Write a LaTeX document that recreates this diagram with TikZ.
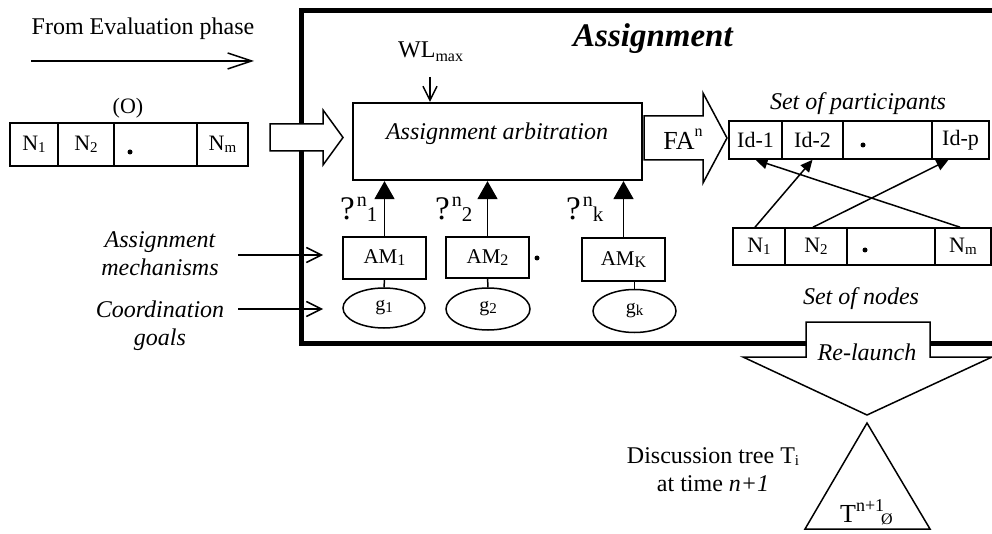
\documentclass[tikz,border=0pt]{standalone}
\usepackage{fontspec}
\setmainfont{Liberation Serif}
\usetikzlibrary{arrows.meta,shapes.geometric}

% font size helper and small raised / lowered text
\newcommand\sz[2]{\fontsize{#1}{#2}\selectfont}
\newcommand\lowtxt[2]{\raisebox{-2pt}{\fontsize{#1}{#1}\selectfont #2}}
\newcommand\uptxt[3]{\raisebox{#2}{\fontsize{#1}{#1}\selectfont #3}}

\begin{document}
\begin{tikzpicture}[x=1pt,y=-1pt,
  cell/.style={draw, line width=1.6pt, inner sep=0pt, font=\sz{22}{26}},
  ambox/.style={draw, line width=1.5pt, minimum width=83pt, minimum height=42pt, inner sep=0pt, font=\sz{21}{24}},
  goal/.style={draw, ellipse, line width=1.5pt, minimum width=83pt, minimum height=41pt, inner sep=0pt, font=\sz{20}{24}},
  dotmark/.style={circle, fill, inner sep=0pt, minimum size=5pt},
  barb/.style={-{Straight Barb[length=15pt,width=15pt]}, line width=1.5pt},
  upar/.style={-{Triangle[length=18pt,width=20pt]}, line width=1.5pt},
  crossar/.style={-{Triangle[length=12pt,width=11pt]}, line width=1.5pt},
  hollow/.style={draw, line width=1.5pt, fill=white, line join=miter},
  lbl/.style={font=\sz{24}{28}},
  qlbl/.style={anchor=base west, inner sep=0pt},
]
\useasboundingbox (0,0) rectangle (992,534);

% outer frame of the assignment phase
\draw[line width=5.5pt, line join=miter] (992,10.5) -- (301.5,10.5) -- (301.5,343.5) -- (992,343.5);
\node[font=\sz{33}{36}\bfseries\itshape, anchor=base west, inner sep=0pt] (title) at (573,47) {Assignment};

% incoming flow
\node[lbl, anchor=base] (evtxt) at (143,35) {From Evaluation phase};
\coordinate (ev0) at (31,61);
\coordinate (ev1) at (254,61);
\draw[line width=1.5pt, -{Straight Barb[length=24pt,width=16pt]}] (ev0) -- (ev1);

% ordered list of nodes (O)
\node[font=\sz{22}{24}] (olab) at (128,108) {(O)};
\node[cell, minimum width=48pt, minimum height=43pt] (o1) at (34,144.5) {N\lowtxt{15}{1}};
\node[cell, minimum width=56pt, minimum height=43pt] (o2) at (86,144.5) {N\lowtxt{15}{2}};
\node[cell, minimum width=83pt, minimum height=43pt] (o3) at (155.5,144.5) {};
\node[cell, minimum width=51pt, minimum height=43pt] (o4) at (222.5,144.5) {N\lowtxt{15}{m}};
\node[dotmark] (odot) at (130,152) {};

% hollow arrow into the frame
\draw[hollow] (270,124) -- (323,124) -- (323,110) -- (343,137.5) -- (323,165) -- (323,151) -- (270,151) -- cycle;

% arbitration
\node[draw, line width=2.2pt, minimum width=289pt, minimum height=77pt] (arb) at (497.5,141.5) {};
\node[font=\sz{24}{28}\itshape] (arbtxt) at (497,134) {Assignment arbitration};
\node[font=\sz{24}{26}, anchor=base west, inner sep=0pt] (wl) at (398,58) {WL\raisebox{-4pt}{\fontsize{16}{16}\selectfont max}};
\coordinate (wlfoot) at (430,77);
\draw[-{Straight Barb[length=14pt,width=14pt]}, line width=1.5pt] (wlfoot) -- (wlfoot |- arb.north);

% assignment mechanisms and goals
\node[ambox] (am1) at (384.5,258) {AM\lowtxt{16}{1}};
\node[ambox, minimum height=41pt] (am2) at (487.5,257.5) {AM\lowtxt{16}{2}};
\node[ambox, minimum height=43pt] (amk) at (623.5,259.5) {AM\lowtxt{16}{K}};
\node[dotmark] (amdot) at (537,258) {};
\node[goal, minimum width=82pt, minimum height=40pt] (g1) at (384,308) {g\lowtxt{15}{1}};
\node[goal, minimum width=84pt, minimum height=42pt] (g2) at (488,309) {g\lowtxt{15}{2}};
\node[goal, minimum height=43pt] (gk) at (634.5,311) {g\lowtxt{15}{k}};
\draw[line width=1.5pt] (am1) -- (g1);
\draw[line width=1.5pt] (am2) -- (g2);
\draw[line width=1.5pt] (gk.north) -- (gk.north |- amk.south);

\draw[upar] (am1) -- (am1 |- arb.south);
\draw[upar] (am2) -- (am2 |- arb.south);
\draw[upar] (amk) -- (amk |- arb.south);
\node[qlbl] (q1) at (340,220) {\sz{33}{33}?\hspace{2pt}\uptxt{20}{13pt}{n}\lowtxt{21}{1}};
\node[qlbl] (q2) at (435,220) {\sz{33}{33}?\hspace{2pt}\uptxt{20}{13pt}{n}\lowtxt{21}{2}};
\node[qlbl] (qk) at (566,220) {\sz{33}{33}?\hspace{2pt}\uptxt{20}{13pt}{n}\lowtxt{21}{k}};

% side labels
\node[lbl, font=\sz{24}{28}\itshape, align=center] (mechlab) at (160,254) {Assignment\\mechanisms};
\node[lbl, font=\sz{24}{28}\itshape, align=center] (goallab) at (160,326) {Coordination\\goals};
\coordinate (mech0) at (238,255);
\coordinate (mech1) at (323,255);
\coordinate (goal0) at (238,309);
\coordinate (goal1) at (323,309);
\draw[barb] (mech0) -- (mech1);
\draw[barb] (goal0) -- (goal1);

% final assignment arrow
\draw[hollow] (644,116) -- (703,116) -- (703,93) -- (727,138) -- (703,183) -- (703,160) -- (644,160) -- cycle;
\node[font=\sz{26}{28}, anchor=base] (fa) at (683,150) {FA\uptxt{16}{13pt}{n}};

% set of participants
\node[lbl, font=\sz{24}{28}\itshape, anchor=base] (partlab) at (858,110) {Set of participants};
\node[cell, minimum width=53pt, minimum height=38pt] (id1) at (755.5,140) {Id-1};
\node[cell, minimum width=61pt, minimum height=38pt] (id2) at (812.5,140) {Id-2};
\node[cell, minimum width=89pt, minimum height=38pt] (id3) at (887.5,140) {};
\node[cell, minimum width=57pt, minimum height=38pt] (idp) at (960.5,140) {Id-p};
\node[dotmark] (iddot) at (863,145) {};

% set of nodes
\node[cell, minimum width=52pt, minimum height=37pt] (n1) at (759,246.5) {N\lowtxt{15}{1}};
\node[cell, minimum width=62pt, minimum height=37pt] (n2) at (816,246.5) {N\lowtxt{15}{2}};
\node[cell, minimum width=88pt, minimum height=37pt] (n3) at (891,246.5) {};
\node[cell, minimum width=56pt, minimum height=37pt] (nm) at (963,246.5) {N\lowtxt{15}{m}};
\node[dotmark] (ndot) at (865,250) {};
\node[lbl, font=\sz{24}{28}\itshape, anchor=base] (nodelab) at (861,305) {Set of nodes};

% mapping of nodes to participants
\draw[crossar] ([xshift=-4pt]n1.north) -- (id2.south);
\draw[crossar] ([xshift=-3pt]n2.north) -- ([xshift=-12pt]idp.south);
\draw[crossar] ([xshift=-3pt]nm.north) -- (id1.south);

% re-launch arrow leaving the frame
\draw[hollow] (806,322) -- (930,322) -- (930,357) -- (992,357) -- (867,415) -- (743,357) -- (806,357) -- cycle;
\node[lbl, font=\sz{24}{28}\itshape, anchor=base] (relaunch) at (867,360) {Re-launch};

% discussion tree
\coordinate (tTop) at (867,423);
\coordinate (tRight) at (930,529);
\coordinate (tLeft) at (805,529);
\draw[line width=1.5pt, line join=miter] (tTop) -- (tRight) -- (tLeft) -- cycle;
\node[anchor=base west, inner sep=0pt, font=\sz{26}{28}] (tlab) at (840,522) {T\uptxt{18}{11pt}{n+1}\hspace{-3pt}\lowtxt{16}{Ø}};
\node[lbl, align=center] (treelab) at (713,470) {Discussion tree T\lowtxt{15}{i}\\at time \textit{n+1}};
\end{tikzpicture}
\end{document}
